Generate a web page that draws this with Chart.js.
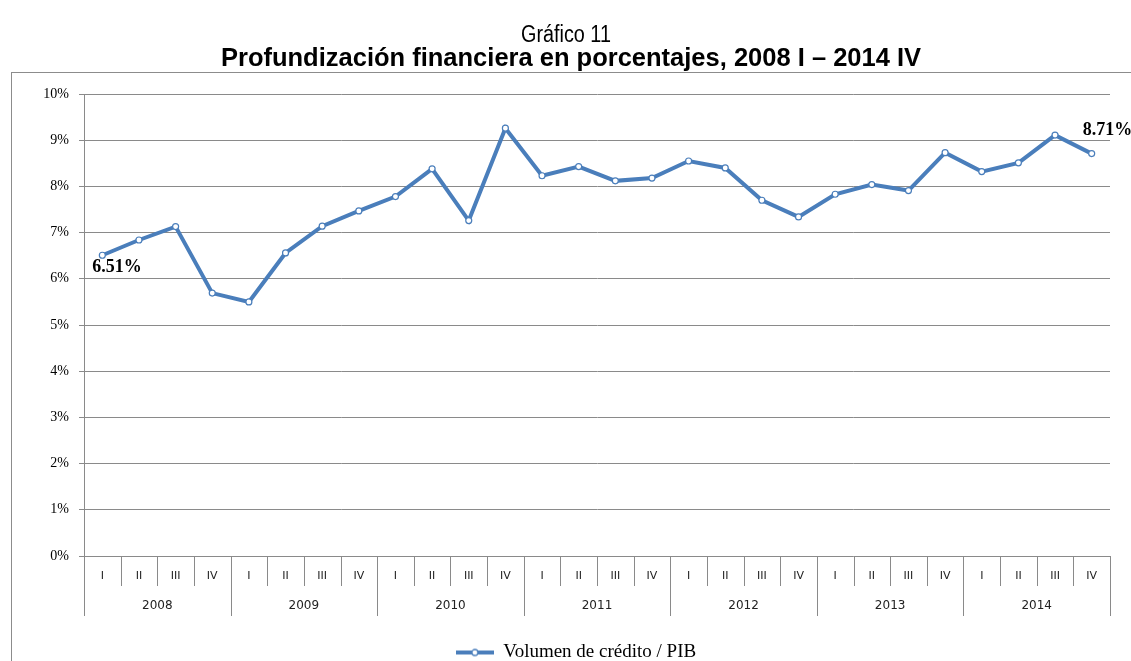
<!DOCTYPE html>
<html>
<head>
<meta charset="utf-8">
<script src="https://cdn.jsdelivr.net/npm/chart.js@4"></script>
<style>
  html, body { margin: 0; padding: 0; background: #fff; }
  #wrap { width: 1131px; height: 661px; position: relative; }
</style>
</head>
<body>
<div id="wrap"><canvas id="chart" width="1131" height="661"></canvas></div>
<script>
// Chart data
const years = ['2008', '2009', '2010', '2011', '2012', '2013', '2014'];
const quarters = ['I', 'II', 'III', 'IV'];
const credito = [
  6.51, 6.84, 7.13, 5.69,
  5.50, 6.56, 7.14, 7.47,
  7.78, 8.38, 7.26, 9.26,
  8.23, 8.43, 8.12, 8.18,
  8.55, 8.40, 7.70, 7.34,
  7.83, 8.04, 7.91, 8.73,
  8.32, 8.51, 9.11, 8.71
];
const yTicks = [0, 1, 2, 3, 4, 5, 6, 7, 8, 9, 10];
const titleLine = 'Gráfico 11';
const subtitleLine = 'Profundización financiera en porcentajes, 2008 I – 2014 IV';

const lineColor = '#4a7ebb';
const gridColor = '#8a8a8a';

// quarter labels repeated for each year
const labels = years.flatMap(() => quarters);

// legend symbol: line with a hollow marker, like the spreadsheet original
function legendSymbol() {
  const c = document.createElement('canvas');
  c.width = 38; c.height = 10;
  const g = c.getContext('2d');
  g.strokeStyle = lineColor;
  g.lineWidth = 4;
  g.beginPath(); g.moveTo(0, 5); g.lineTo(38, 5); g.stroke();
  g.fillStyle = '#fff';
  g.lineWidth = 1.3;
  g.beginPath(); g.arc(19, 5, 3, 0, Math.PI * 2); g.fill(); g.stroke();
  return c;
}

// outer frame and the two title lines (first line is a narrow face in the original)
const framePlugin = {
  id: 'frame',
  beforeDraw(chart) {
    const ctx = chart.ctx;
    ctx.save();
    ctx.strokeStyle = '#8c8c8c';
    ctx.lineWidth = 1;
    ctx.strokeRect(11.5, 72.5, 1200, 700);

    ctx.fillStyle = '#000';
    ctx.textAlign = 'center';
    ctx.textBaseline = 'middle';
    ctx.save();
    ctx.font = '23px "Liberation Sans"';
    ctx.translate(566, 36);
    ctx.scale(0.86, 1);
    ctx.fillText(titleLine, 0, 0);
    ctx.restore();

    ctx.font = 'bold 25.5px "Liberation Sans"';
    ctx.fillText(subtitleLine, 571, 59);
    ctx.restore();
  }
};

// two-level category axis: quarter separators, year separators and year labels
const yearAxisPlugin = {
  id: 'yearAxis',
  afterDraw(chart) {
    const x = chart.scales.x;
    const bottom = chart.chartArea.bottom;
    const step = x.getPixelForValue(1) - x.getPixelForValue(0);
    const ctx = chart.ctx;
    ctx.save();
    ctx.strokeStyle = gridColor;
    ctx.lineWidth = 1;
    for (let i = 0; i <= labels.length; i++) {
      const px = Math.round(x.getPixelForValue(0) - step / 2 + i * step) + 0.5;
      const len = (i % quarters.length === 0) ? 60 : 30;
      ctx.beginPath();
      ctx.moveTo(px, bottom);
      ctx.lineTo(px, bottom + len);
      ctx.stroke();
    }
    ctx.fillStyle = '#222';
    ctx.font = '12px "DejaVu Sans"';
    ctx.textAlign = 'center';
    ctx.textBaseline = 'middle';
    years.forEach((yr, j) => {
      const a = x.getPixelForValue(j * quarters.length);
      const b = x.getPixelForValue(j * quarters.length + quarters.length - 1);
      ctx.fillText(yr, (a + b) / 2, bottom + 50);
    });
    ctx.restore();
  }
};

// value labels on the first and the last point
const endLabelPlugin = {
  id: 'endLabels',
  afterDatasetsDraw(chart) {
    const meta = chart.getDatasetMeta(0);
    const ctx = chart.ctx;
    ctx.save();
    ctx.fillStyle = '#000';
    ctx.font = 'bold 18px "Liberation Serif"';
    ctx.textAlign = 'left';
    ctx.textBaseline = 'middle';
    const first = meta.data[0];
    ctx.fillText(credito[0].toFixed(2) + '%', first.x - 10, first.y + 12);
    const n = credito.length - 1;
    const last = meta.data[n];
    ctx.fillText(credito[n].toFixed(2) + '%', last.x - 9, last.y - 23);
    ctx.restore();
  }
};

const ctx = document.getElementById('chart').getContext('2d');
new Chart(ctx, {
  type: 'line',
  data: {
    labels: labels,
    datasets: [{
      label: 'Volumen de crédito / PIB',
      data: credito,
      borderColor: lineColor,
      borderWidth: 4,
      tension: 0,
      pointRadius: 3,
      pointBorderWidth: 1.2,
      pointBackgroundColor: '#fff',
      pointBorderColor: lineColor,
      pointStyle: 'circle'
    }]
  },
  plugins: [framePlugin, yearAxisPlugin, endLabelPlugin],
  options: {
    responsive: false,
    animation: false,
    layout: { padding: { left: 42, right: 21, top: 94, bottom: -11 } },
    plugins: {
      title: { display: false },
      legend: {
        display: true,
        position: 'bottom',
        labels: {
          usePointStyle: true,
          pointStyle: legendSymbol(),
          pointStyleWidth: 38,
          padding: 0,
          color: '#000',
          font: { family: '"Liberation Serif"', size: 19 }
        }
      },
      tooltip: { enabled: false }
    },
    scales: {
      x: {
        type: 'category',
        offset: true,
        grid: { display: false, drawTicks: false },
        border: { display: false },
        ticks: {
          color: '#222',
          font: { family: '"DejaVu Sans"', size: 11 },
          padding: 14,
          maxRotation: 0,
          autoSkip: false
        },
        afterFit(scale) { scale.height = 87; }
      },
      y: {
        min: 0,
        max: 10,
        afterBuildTicks(scale) { scale.ticks = yTicks.map(v => ({ value: v })); },
        grid: { color: gridColor, tickLength: 5, lineWidth: 1 },
        border: { display: true, color: gridColor },
        ticks: {
          color: '#000',
          padding: 10,
          font: { family: '"Liberation Serif"', size: 14 },
          callback: v => v + '%'
        },
        afterFit(scale) { scale.width = 42; }
      }
    }
  }
});
</script>
</body>
</html>
